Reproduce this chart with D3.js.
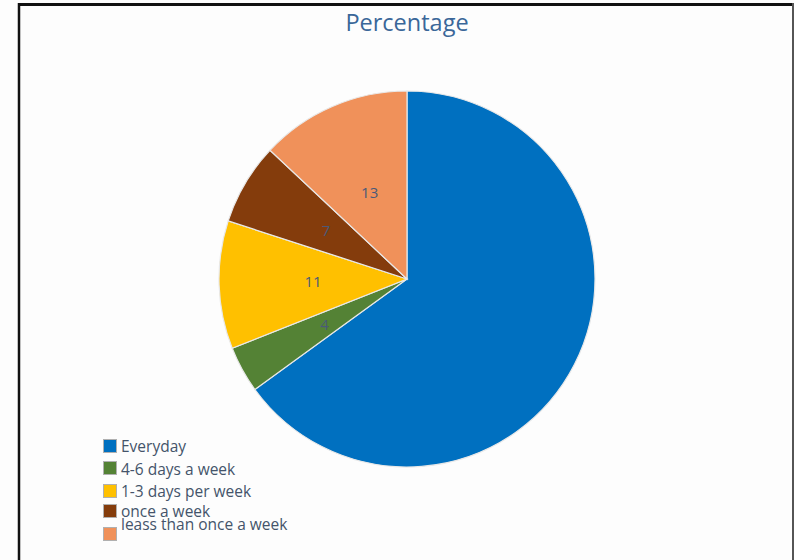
<!DOCTYPE html>
<html><head><meta charset="utf-8">
<script src="https://cdn.jsdelivr.net/npm/d3@7"></script>
<style>body{margin:0;background:#fff}svg{display:block}</style>
</head><body>
<svg id="c" width="794" height="560"></svg>
<script>
const categories = ["Everyday","4-6 days a week","1-3 days per week","once a week","leass than once a week"];
const values = [65, 4, 11, 7, 13];
const showLabel = [false, true, true, true, true];
const colors = ["#0070c0","#548235","#ffc000","#843c0c","#f0915a"];
const title = "Percentage";

const svg = d3.select("#c");
svg.append("rect").attr("width",794).attr("height",560).attr("fill","#fdfdfd");
// frame
svg.append("line").attr("x1",18).attr("x2",794).attr("y1",4.5).attr("y2",4.5).attr("stroke","#111").attr("stroke-width",3);
svg.append("line").attr("x1",19).attr("x2",19).attr("y1",3).attr("y2",560).attr("stroke","#111").attr("stroke-width",2.5);
svg.append("line").attr("x1",793).attr("x2",793).attr("y1",3).attr("y2",560).attr("stroke","#555").attr("stroke-width",2);

svg.append("text").attr("x",407).attr("y",31).attr("text-anchor","middle")
  .attr("font-family","Open Sans, sans-serif").attr("font-size",23.5).attr("font-weight",500).attr("fill","#3a6799").text(title);

const cx=407, cy=279, R=188;
const data = categories.map((c,i)=>({c, v:values[i], col:colors[i], show:showLabel[i]}));
const pie = d3.pie().value(d=>d.v).sort(null);
const arc = d3.arc().innerRadius(0).outerRadius(R);
const labelArc = d3.arc().innerRadius(R*0.5).outerRadius(R*0.5);
const g = svg.append("g").attr("transform",`translate(${cx},${cy})`);
const arcs = pie(data);
g.selectAll("path").data(arcs).join("path").attr("d",arc)
  .attr("fill",d=>d.data.col).attr("stroke","#e8e8e8").attr("stroke-width",1.2);
g.selectAll("text").data(arcs.filter(d=>d.data.show)).join("text")
  .attr("transform",d=>`translate(${labelArc.centroid(d)})`)
  .attr("text-anchor","middle").attr("dy","0.35em")
  .attr("font-family","Open Sans, sans-serif").attr("font-size",15).attr("fill","#4a5a78")
  .text(d=>d.data.v);

// legend
const legY = [446, 468, 491, 511, 534];
const txtY = [452, 475, 497, 517, 530];
const lg = svg.append("g");
data.forEach((d,i)=>{
  lg.append("rect").attr("x",103.5).attr("y",legY[i]-6.5).attr("width",13).attr("height",13)
    .attr("fill",d.col).attr("stroke","#b0b0b0").attr("stroke-width",1);
  lg.append("text").attr("x",121).attr("y",txtY[i]).attr("font-family","Open Sans, sans-serif")
    .attr("font-size",15.5).attr("fill","#44546a").text(d.c);
});
</script>
</body></html>
